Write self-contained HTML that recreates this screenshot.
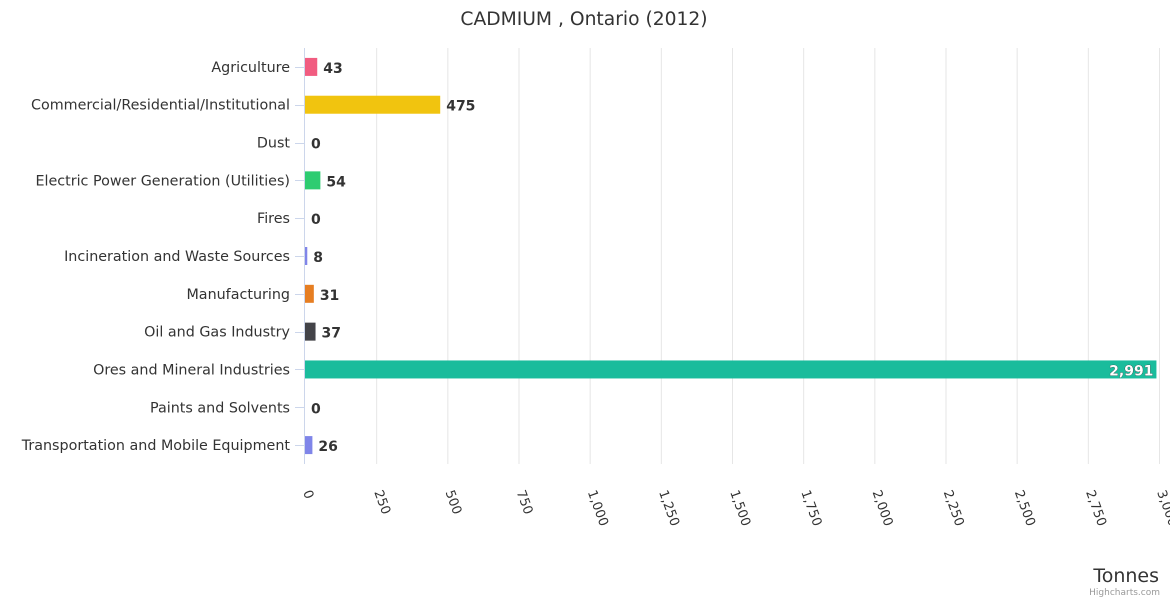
<!DOCTYPE html>
<html><head><meta charset="utf-8">
<style>
html,body{margin:0;padding:0;background:#fff;}
svg{display:block;font-family:"DejaVu Sans","Liberation Sans",sans-serif;}
</style></head>
<body>
<svg id="chart" width="1170" height="600">
<text x="584" y="25" text-anchor="middle" font-size="18.7" fill="#333">CADMIUM , Ontario (2012)</text>
<g id="grid"></g>
<g id="bars"></g>
<g id="ylabels"></g>
<g id="xlabels"></g>
<text x="1159" y="582" text-anchor="end" font-size="19" fill="#333">Tonnes</text>
<text x="1160" y="595" text-anchor="end" font-size="9" fill="#999">Highcharts.com</text>
</svg>
<script>
const categories=["Agriculture","Commercial/Residential/Institutional","Dust","Electric Power Generation (Utilities)","Fires","Incineration and Waste Sources","Manufacturing","Oil and Gas Industry","Ores and Mineral Industries","Paints and Solvents","Transportation and Mobile Equipment"];
const values=[43,475,0,54,0,8,31,37,2991,0,26];
const colors=["#f15c80","#f1c40f","#90ed7d","#2ecc71","#e4d354","#8085e9","#e67e22","#434348","#1abc9c","#f7a35c","#7f85e9"];
const ticks=[0,250,500,750,1000,1250,1500,1750,2000,2250,2500,2750,3000];
const tickLabels=["0","250","500","750","1,000","1,250","1,500","1,750","2,000","2,250","2,500","2,750","3,000"];
const NS="http://www.w3.org/2000/svg";
const L=305,R=1159,T=48,B=464,xMax=3000;
const x=v=>L+(v/xMax)*(R-L);
const band=(B-T)/categories.length;
const yc=i=>T+band*(i+0.5);
function mk(tag,attrs,parent){const e=document.createElementNS(NS,tag);for(const k in attrs)e.setAttribute(k,attrs[k]);parent.appendChild(e);return e;}
const grid=document.getElementById('grid'),bars=document.getElementById('bars'),yl=document.getElementById('ylabels'),xl=document.getElementById('xlabels');
ticks.forEach((t,i)=>{
  if(i>0){const g=mk('line',{x1:x(t)+0.5,x2:x(t)+0.5,y1:T,y2:B,stroke:'#e6e6e6','stroke-width':1},grid);
  
  }
  const tx=x(t)-2,ty=492;
  const lb=mk('text',{x:tx,y:ty,'font-size':13,fill:'#333',transform:`rotate(70 ${tx} ${ty})`},xl);
  lb.textContent=tickLabels[i];
  
  
});
const ax=mk('line',{x1:L-0.5,x2:L-0.5,y1:T,y2:B,stroke:'#ccd6eb'},grid);


categories.forEach((c,i)=>{
  const y=yc(i);
  const tk=mk('line',{x1:295,x2:305,y1:Math.round(y)+0.5,y2:Math.round(y)+0.5,stroke:'#ccd6eb'},grid);
  
  
  const t=mk('text',{x:290,y:y+5,'text-anchor':'end','font-size':14.3,fill:'#333'},yl);
  t.textContent=c;
  
  
  const w=x(values[i])-L;
  const r=mk('rect',{x:L,y:y-9,width:Math.max(w,0),height:18,fill:colors[i]},bars);
  
  
  const s=values[i].toLocaleString('en-US');
  const inside=w>600;
  const vt=mk('text',{x:inside?L+w-3:L+w+6,y:y+6,'text-anchor':inside?'end':'start','font-size':14,'font-weight':'bold',fill:inside?'#fff':'#333',stroke:inside?'#333':'none','stroke-width':inside?0.6:0,'paint-order':'stroke'},bars);
  vt.textContent=s;
  
  
});
</script>
</body></html>
